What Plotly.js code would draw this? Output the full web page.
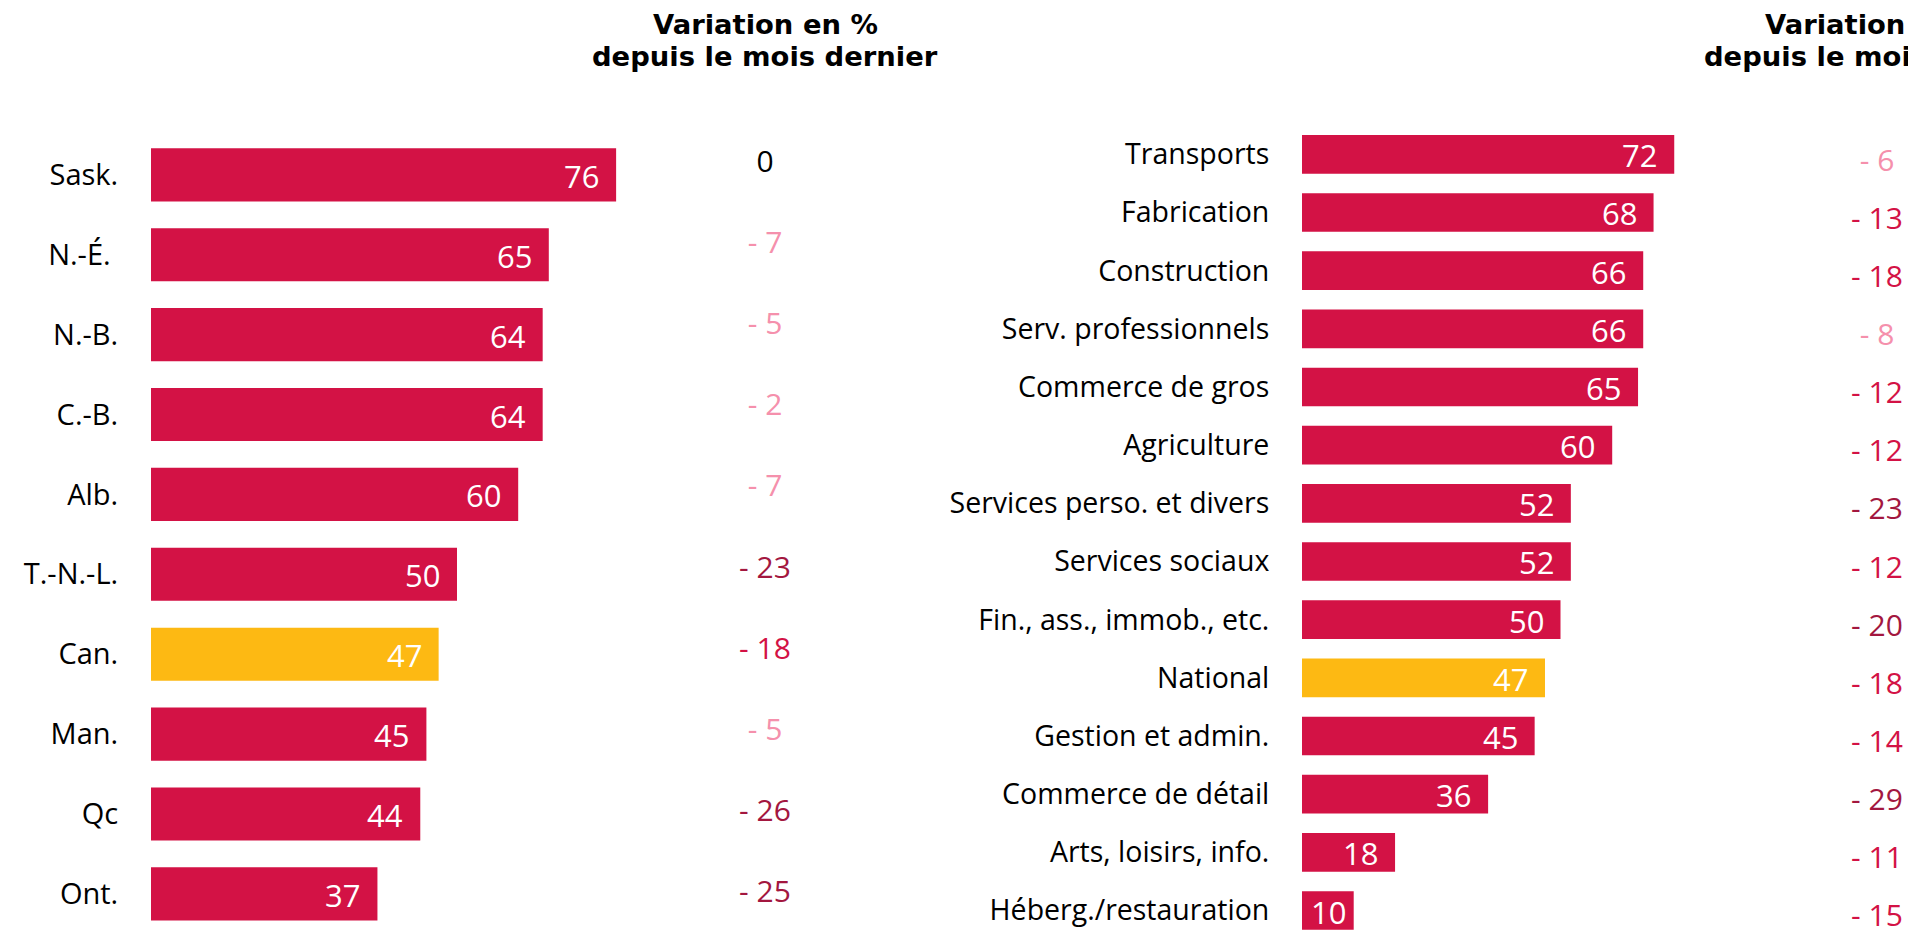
<!DOCTYPE html>
<html>
<head>
<meta charset="utf-8">
<script src="https://cdn.plot.ly/plotly-3.0.1.min.js"></script>
<style>html,body{margin:0;padding:0;background:#fff;}#chart{width:1908px;height:930px;}</style>
</head>
<body>
<div id="chart"></div>
<script>
// ---- Data ----
const provinces = ["Sask.", "N.-É.\u00a0", "N.-B.", "C.-B.", "Alb.", "T.-N.-L.", "Can.", "Man.", "Qc", "Ont."];
const provinceValues = [76, 65, 64, 64, 60, 50, 47, 45, 44, 37];
const provinceChange = [0, -7, -5, -2, -7, -23, -18, -5, -26, -25];

const sectors = ["Transports", "Fabrication", "Construction", "Serv. professionnels", "Commerce de gros",
  "Agriculture", "Services perso. et divers", "Services sociaux", "Fin., ass., immob., etc.", "National",
  "Gestion et admin.", "Commerce de détail", "Arts, loisirs, info.", "Héberg./restauration"];
const sectorValues = [72, 68, 66, 66, 65, 60, 52, 52, 50, 47, 45, 36, 18, 10];
const sectorChange = [-6, -13, -18, -8, -12, -12, -23, -12, -20, -18, -14, -29, -11, -15];

const highlighted = ["Can.", "National"];
const columnTitle = ["Variation en %", "depuis le mois dernier"];

// ---- Styles ----
const CRIMSON = "#D31245", GOLD = "#FDB913", PINK = "#F590AC", DARK = "#A3173F";
const LABEL_FONT = "Open Sans, Noto Sans, sans-serif";
const barColor = cats => cats.map(c => highlighted.includes(c) ? GOLD : CRIMSON);
const changeText = arr => arr.map(v => v === 0 ? "0" : "- " + Math.abs(v));
const changeColor = arr => arr.map(v => {
  const a = Math.abs(v);
  if (a === 0) return "#000000";
  if (a <= 8) return PINK;
  if (a <= 18) return CRIMSON;
  return DARK;
});

const W = 1908, H = 930;
const L0 = 151, LS = 6.12;   // left panel zero px, px per unit
const R0 = 1302, RS = 5.17;  // right panel zero px, px per unit
const XMAX = 80;

const traces = [
  {type: "bar", orientation: "h", y: provinces, x: provinceValues, xaxis: "x", yaxis: "y",
   marker: {color: barColor(provinces)}, hoverinfo: "skip"},
  {type: "scatter", mode: "text", y: provinces, x: provinces.map(() => 0), xaxis: "x2", yaxis: "y2",
   text: changeText(provinceChange), textposition: "middle center", cliponaxis: false,
   textfont: {family: LABEL_FONT, size: 30, color: changeColor(provinceChange)}, hoverinfo: "skip"},
  {type: "bar", orientation: "h", y: sectors, x: sectorValues, xaxis: "x3", yaxis: "y3",
   marker: {color: barColor(sectors)}, hoverinfo: "skip"},
  {type: "scatter", mode: "text", y: sectors, x: sectors.map(() => 0), xaxis: "x4", yaxis: "y4",
   text: changeText(sectorChange), textposition: "middle center", cliponaxis: false,
   textfont: {family: LABEL_FONT, size: 30, color: changeColor(sectorChange)}, hoverinfo: "skip"}
];

const hidden = {visible: false, showgrid: false, zeroline: false, fixedrange: true};
const catAxis = (cats, range, anchor, ticklen, size) => ({
  type: "category", categoryarray: cats, categoryorder: "array", range: range, domain: [0, 1], anchor: anchor,
  showgrid: false, zeroline: false, showline: false, ticks: "outside", ticklen: ticklen,
  tickcolor: "rgba(0,0,0,0)", tickfont: {family: LABEL_FONT, size: size, color: "#000"}, fixedrange: true
});

// value labels at the bar end; short bars get a smaller inset so the label stays inside
const valueAnn = (cats, vals, xr, yr, pxPerUnit) => cats.map((c, i) => ({
  xref: xr, yref: yr, x: vals[i], y: c, text: String(vals[i]), showarrow: false,
  xanchor: "right", yanchor: "middle", xshift: vals[i] * pxPerUnit < 70 ? -6 : -15, yshift: -1,
  font: {family: LABEL_FONT, size: 31, color: "#ffffff"}
}));

const titleAnn = (cx) => columnTitle.map((t, i) => ({
  xref: "paper", yref: "paper", x: cx / W, y: 1 - (i === 0 ? 25 : 57) / H, text: t, showarrow: false,
  xanchor: "center", yanchor: "middle",
  font: {family: "DejaVu Sans, sans-serif", size: 27.4, color: "#000", weight: 700}
}));

const layout = {
  width: W, height: H, margin: {l: 0, r: 0, t: 0, b: 0}, paper_bgcolor: "#fff", plot_bgcolor: "rgba(0,0,0,0)",
  showlegend: false, bargap: 0.335,
  xaxis: Object.assign({}, hidden, {domain: [L0 / W, (L0 + XMAX * LS) / W], range: [0, XMAX], anchor: "y"}),
  yaxis: catAxis(provinces, [9.452, -2.188], "x", 26, 29),
  xaxis2: Object.assign({}, hidden, {domain: [765 / W - 0.02, 765 / W + 0.02], range: [-1, 1], anchor: "y2"}),
  yaxis2: Object.assign({}, hidden, {type: "category", categoryarray: provinces, categoryorder: "array",
    range: [9.433, -2.02], domain: [0, 1], anchor: "x2"}),
  xaxis3: Object.assign({}, hidden, {domain: [R0 / W, (R0 + XMAX * RS) / W], range: [0, XMAX], anchor: "y3"}),
  yaxis3: catAxis(sectors, [13.335, -2.6526], "x3", 26, 28.5),
  xaxis4: Object.assign({}, hidden, {domain: [1877 / W - 0.01, 1877 / W + 0.01], range: [-1, 1], anchor: "y4"}),
  yaxis4: Object.assign({}, hidden, {type: "category", categoryarray: sectors, categoryorder: "array",
    range: [13.196, -2.811], domain: [0, 1], anchor: "x4"}),
  annotations: [].concat(
    valueAnn(provinces, provinceValues, "x", "y", LS),
    valueAnn(sectors, sectorValues, "x3", "y3", RS),
    titleAnn(765), titleAnn(1877)
  )
};

Plotly.newPlot("chart", traces, layout, {displayModeBar: false, staticPlot: true});
</script>
</body>
</html>
